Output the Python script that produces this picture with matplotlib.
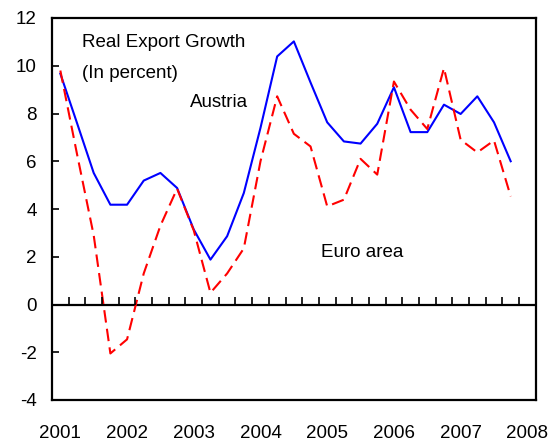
import matplotlib
matplotlib.use("Agg")
import matplotlib.pyplot as plt
import numpy as np

plt.rcParams['font.family'] = ['Liberation Sans', 'DejaVu Sans']
plt.rcParams['axes.unicode_minus'] = False

quarters = [f"{y}Q{q}" for y in range(2001, 2009) for q in range(1, 5)][:29]
year_labels = ["2001", "2002", "2003", "2004", "2005", "2006", "2007", "2008"]

austria = [9.67, 7.6, 5.51, 4.18, 4.18, 5.19, 5.51, 4.88,
           3.14, 1.88, 2.86, 4.67, 7.4, 10.39, 11.02, 9.3,
           7.63, 6.83, 6.74, 7.57, 9.1, 7.22, 7.22, 8.37,
           7.98, 8.72, 7.63, 6.0]
euro_area = [9.8, 6.3, 2.9, -2.05, -1.46, 1.3, 3.3, 4.85,
             3.1, 0.49, 1.3, 2.35, 6.0, 8.72, 7.15, 6.62,
             4.11, 4.39, 6.1, 5.44, 9.34, 8.16, 7.35, 9.9,
             6.9, 6.37, 6.87, 4.53]

fig = plt.figure(figsize=(5.57, 4.42), dpi=100)
ax = fig.add_axes([52/557, 1-400/442, (535.7-52)/557, (400-18)/442])

x_a = np.arange(len(austria))
x_e = np.arange(len(euro_area))
ax.plot(x_a, austria, color='#0000FF', lw=1.5, zorder=3)
ax.plot(x_e, euro_area, color='#FF0000', lw=1.5, dashes=(6, 3), zorder=3)

ax.set_xlim(-0.5, len(quarters) - 0.5)
ax.set_ylim(-4, 12)
ax.set_yticks(np.arange(-4, 13, 2))
ax.tick_params(axis='y', direction='in', length=5, width=1.2, labelsize=13.5, pad=11)
ax.set_xticks(np.arange(0, len(quarters), 4))
ax.set_xticklabels(year_labels)
ax.tick_params(axis='x', length=0, labelsize=13.5, pad=18)
for s in ax.spines.values():
    s.set_linewidth(1.6)

ax.axhline(0, color='black', lw=1.6, zorder=2)

# tick marks on the zero line at category boundaries
ax2 = ax.twiny()
ax2.set_xlim(ax.get_xlim())
ax2.spines['bottom'].set_position(('data', 0))
for k in ['top', 'left', 'right', 'bottom']:
    ax2.spines[k].set_visible(False)
ax2.xaxis.set_ticks_position('bottom')
ax2.set_xticks(np.arange(-0.5, len(quarters), 1.0))
ax2.tick_params(axis='x', direction='in', length=6, width=1.2, labelbottom=False, labeltop=False)

ax.text(1.3, 10.8, "Real Export Growth", fontsize=13.5, ha='left', va='baseline')
ax.text(1.3, 9.5, "(In percent)", fontsize=13.5, ha='left', va='baseline')
ax.text(7.8, 8.28, "Austria", fontsize=13.5, ha='left', va='baseline')
ax.text(15.6, 1.97, "Euro area", fontsize=13.5, ha='left', va='baseline')

fig.savefig("out.png", dpi=100)
